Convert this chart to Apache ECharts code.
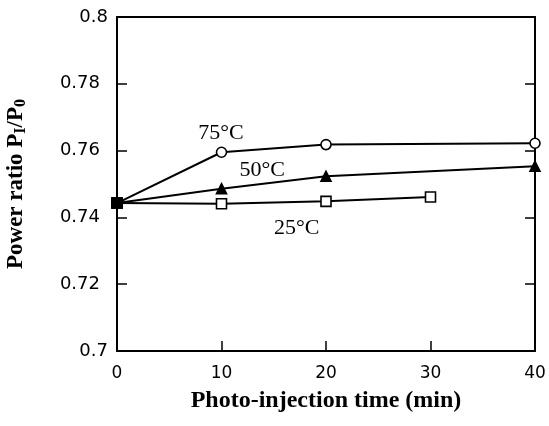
<!DOCTYPE html>
<html>
<head>
<meta charset="utf-8">
<script src="https://cdn.jsdelivr.net/npm/echarts@6/dist/echarts.min.js"></script>
<style>
  html, body { margin: 0; padding: 0; background: #fff; }
  #chart { width: 549px; height: 426px; }
</style>
</head>
<body>
<div id="chart"></div>
<script>
// photo-injection time (min)
const t75 = [0, 10, 20, 40];
const p75 = [0.7443, 0.7595, 0.7618, 0.7622];
const t50 = [0, 10, 20, 40];
const p50 = [0.7443, 0.7486, 0.7523, 0.7553];
const t25 = [0, 10, 20, 30];
const p25 = [0.7443, 0.7441, 0.7448, 0.7461];
const yTicks = [0.7, 0.72, 0.74, 0.76, 0.78, 0.8];

// where the temperature tags sit, in data units
const tags = [
  { text: "75°C", x: 9.95, y: 0.7652 },
  { text: "50°C", x: 13.9, y: 0.7541 },
  { text: "25°C", x: 17.2, y: 0.7369 }
];

const serif = "'Liberation Serif', 'DejaVu Serif', serif";
const sans = "'DejaVu Sans', 'Liberation Sans', sans-serif";

function pairs(xs, ys) {
  return xs.map((x, i) => {
    const item = { value: [x, ys[i]] };
    if (i === 0) {
      // common starting point drawn as a filled square
      item.symbol = "rect";
      item.symbolSize = 10;
      item.itemStyle = { color: "#000" };
    }
    return item;
  });
}

function line(name, xs, ys, symbol, filled) {
  return {
    name: name,
    type: "line",
    data: pairs(xs, ys),
    symbol: symbol,
    symbolSize: 10,
    showAllSymbol: true,
    clip: false,
    lineStyle: { color: "#000", width: 2 },
    itemStyle: {
      color: filled ? "#000" : "#fff",
      borderColor: "#000",
      borderWidth: 1.6
    },
    z: 3
  };
}

const eChart = echarts.init(document.getElementById("chart"), null, { renderer: "canvas" });

const option = {
  animation: false,
  backgroundColor: "#fff",
  grid: { left: 117, right: 14, top: 17, bottom: 75, containLabel: false, outerBoundsMode: "none" },
  xAxis: [
    {
      type: "value",
      min: 0,
      max: 40,
      interval: 10,
      name: "Photo-injection time (min)",
      nameLocation: "middle",
      nameGap: 38,
      nameTextStyle: { fontFamily: serif, fontWeight: "bold", fontSize: 24, color: "#000" },
      axisLine: { onZero: false, lineStyle: { color: "#000", width: 2 } },
      axisTick: { inside: true, length: 10, lineStyle: { color: "#000", width: 1.5 } },
      axisLabel: { fontFamily: sans, fontSize: 17, color: "#000", margin: 14 },
      splitLine: { show: false }
    },
    {
      type: "value",
      position: "top",
      min: 0,
      max: 40,
      axisLine: { onZero: false, lineStyle: { color: "#000", width: 2 } },
      axisTick: { show: false },
      axisLabel: { show: false },
      splitLine: { show: false }
    }
  ],
  yAxis: [
    {
      type: "value",
      min: 0.7,
      max: 0.8,
      interval: 0.02,
      name: "Power ratio P{sub|I}/P{sub|0}",
      nameLocation: "middle",
      nameRotate: 90,
      nameGap: 88,
      nameTextStyle: {
        fontFamily: serif,
        fontWeight: "bold",
        fontSize: 23,
        color: "#000",
        rich: {
          sub: { fontFamily: serif, fontWeight: "bold", fontSize: 16, color: "#000", verticalAlign: "bottom", padding: [9, 0, 0, 0] }
        }
      },
      axisLine: { onZero: false, lineStyle: { color: "#000", width: 2 } },
      axisTick: { inside: true, length: 10, lineStyle: { color: "#000", width: 1.5 } },
      axisLabel: {
        fontFamily: sans,
        fontSize: 18,
        color: "#000",
        margin: 9,
        formatter: v => {
          const hit = yTicks.find(t => Math.abs(t - v) < 1e-9);
          if (hit === undefined) return "";
          const s = String(+hit.toFixed(2));
          // two-decimal labels sit a little further from the axis
          return s.length > 3 ? s + "{gap|}" : s;
        },
        rich: { gap: { width: 8 } }
      },
      splitLine: { show: false }
    },
    {
      type: "value",
      position: "right",
      min: 0.7,
      max: 0.8,
      interval: 0.02,
      axisLine: { show: true, onZero: false, lineStyle: { color: "#000", width: 2 } },
      axisTick: { inside: true, length: 10, lineStyle: { color: "#000", width: 1.5 } },
      axisLabel: { show: false },
      splitLine: { show: false }
    }
  ],
  series: [
    line("25°C", t25, p25, "rect", false),
    line("50°C", t50, p50, "triangle", true),
    line("75°C", t75, p75, "circle", false)
  ]
};

eChart.setOption(option);

// temperature tags placed through the axes
eChart.setOption({
  graphic: tags.map(tg => {
    const pt = eChart.convertToPixel({ xAxisIndex: 0, yAxisIndex: 0 }, [tg.x, tg.y]);
    return {
      type: "text",
      x: pt[0],
      y: pt[1],
      style: {
        text: tg.text,
        fontFamily: serif,
        fontSize: 22,
        fill: "#000",
        align: "center",
        verticalAlign: "middle"
      },
      z: 10
    };
  })
});
</script>
</body>
</html>
